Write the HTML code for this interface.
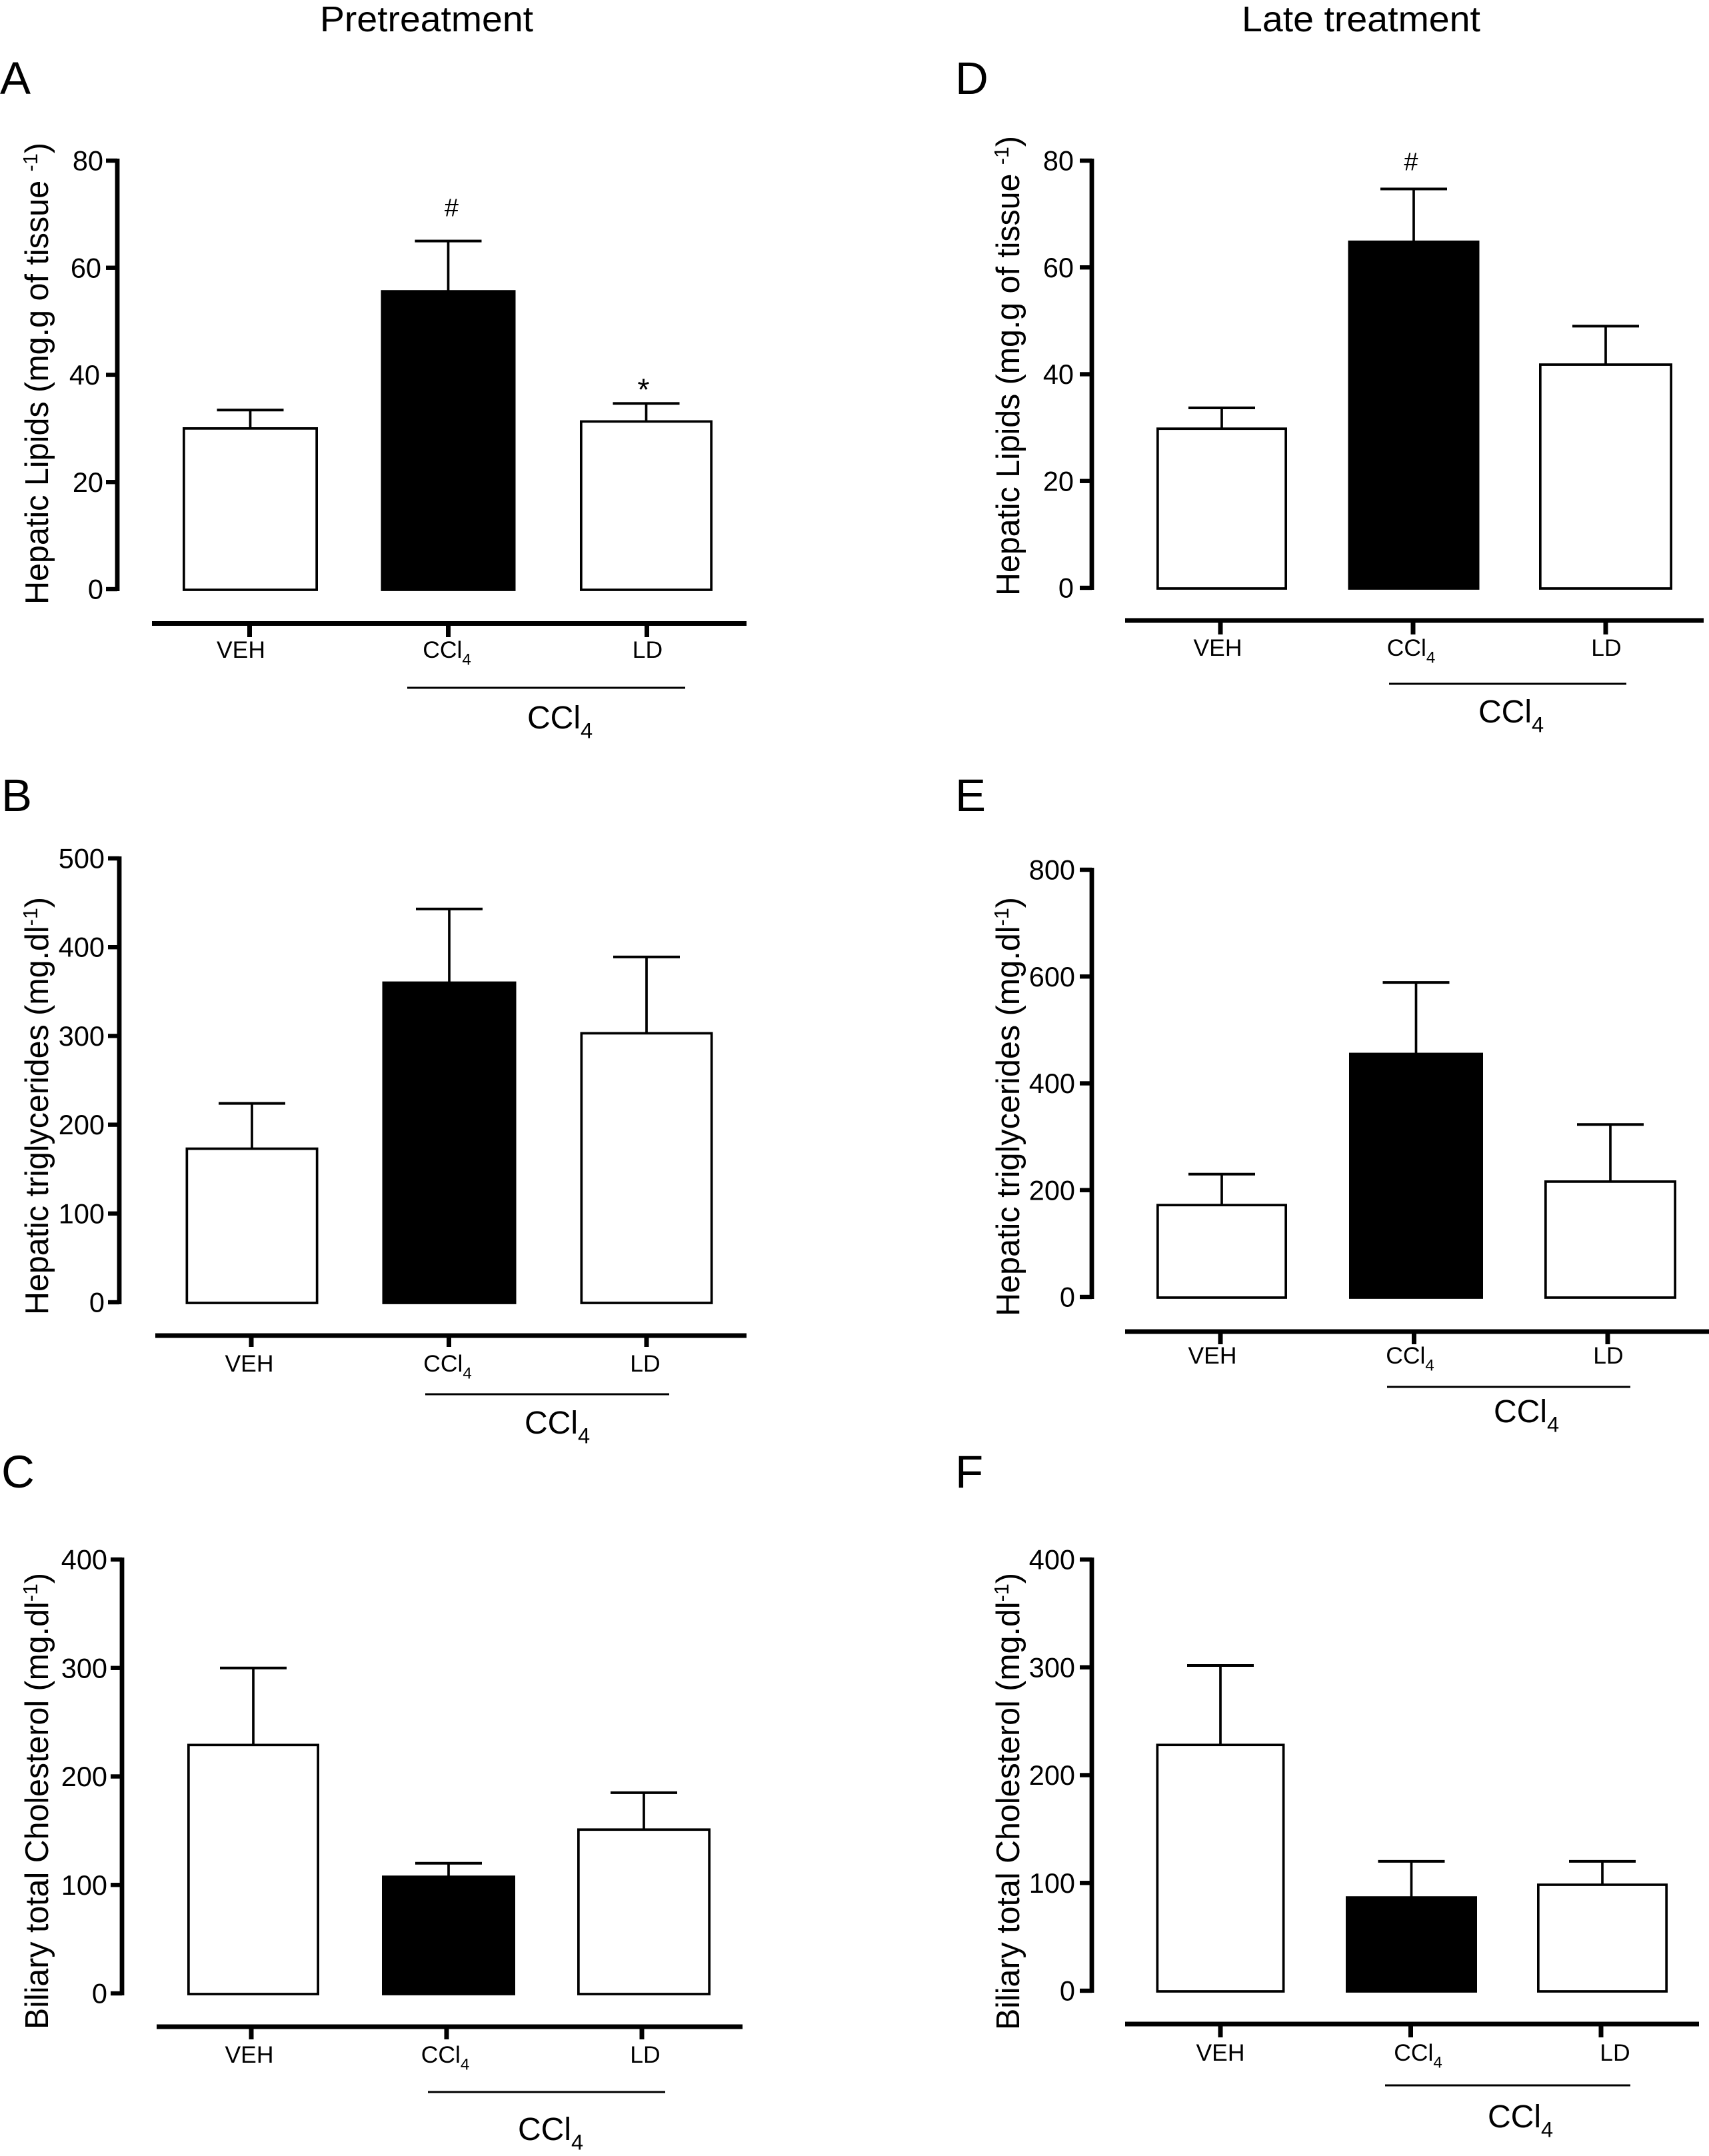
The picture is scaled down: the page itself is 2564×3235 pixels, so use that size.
<!DOCTYPE html>
<html lang="en">
<head>
<meta charset="utf-8">
<title>Hepatic lipids, triglycerides and biliary cholesterol</title>
<style>
html,body{margin:0;padding:0;background:#fff;}
svg{display:block;position:absolute;left:0;top:0;}
text{font-family:"Liberation Sans",Arial,sans-serif;fill:#000;}
</style>
</head>
<body>
<svg id="figure" xmlns="http://www.w3.org/2000/svg" width="2564" height="3235" viewBox="0 0 2564 3235">
<rect width="2564" height="3235" fill="#fff"/>
<text x="480" y="47" font-size="54" textLength="320" lengthAdjust="spacingAndGlyphs">Pretreatment</text>
<text x="1863" y="47" font-size="54" textLength="358" lengthAdjust="spacingAndGlyphs">Late treatment</text>
</svg>
<script>
const categories = ['VEH', 'CCl4', 'LD'];

const panelAMeans = [30, 55.6, 31.3];
const panelAErrors = [3.43, 9.4, 3.37];
const panelATicks = [0, 20, 40, 60, 80];
const panelAMarks = ['', '#', '*'];

const panelBMeans = [173, 360, 303];
const panelBErrors = [51, 83, 86];
const panelBTicks = [0, 100, 200, 300, 400, 500];
const panelBMarks = ['', '', ''];

const panelCMeans = [229, 107.5, 151];
const panelCErrors = [71, 12.5, 34];
const panelCTicks = [0, 100, 200, 300, 400];
const panelCMarks = ['', '', ''];

const panelDMeans = [29.8, 64.8, 41.8];
const panelDErrors = [3.9, 9.9, 7.2];
const panelDTicks = [0, 20, 40, 60, 80];
const panelDMarks = ['', '#', ''];

const panelEMeans = [172, 455, 216];
const panelEErrors = [58, 134, 107];
const panelETicks = [0, 200, 400, 600, 800];
const panelEMarks = ['', '', ''];

const panelFMeans = [228, 86.5, 98.3];
const panelFErrors = [73.7, 33.5, 21.7];
const panelFTicks = [0, 100, 200, 300, 400];
const panelFMarks = ['', '', ''];

const lipidsTitle = 'Hepatic Lipids (mg.g of tissue ';
const lipidsExponent = '-1';
const trigTitle = 'Hepatic triglycerides (mg.dl';
const trigExponent = '-1';
const cholTitle = 'Biliary total Cholesterol (mg.dl';
const cholExponent = '-1';

const panels = [
  {id:'a', letter:'A', letterX:0, letterY:141, means:panelAMeans, errors:panelAErrors, ticks:panelATicks, marks:panelAMarks,
   title:lipidsTitle, exp:lipidsExponent, titleX:72, titleTop:214, titleBot:907,
   axisX:176, yTop:241, yZero:884, tickLeft:159, labelRight:155, tickLabelNudge:[0,0,-5,-3,0],
   barStart:375.5, barStep:297, barW:[203,202,199],
   xAxisY:935.5, xAxisL:228, xAxisR:1120, xTickStart:374.5, xTickStep:298, xTickEnd:956,
   labelY:987, labelNudge:[-13,-2,1], markNudge:[0,5,-4], markLift:[0,37,5],
   lineY:1032, lineL:611, lineR:1028, bigX:791, bigY:1093},
  {id:'b', letter:'B', letterX:2, letterY:1217, means:panelBMeans, errors:panelBErrors, ticks:panelBTicks, marks:panelBMarks,
   title:trigTitle, exp:trigExponent, titleX:72, titleTop:1346, titleBot:1973,
   axisX:179, yTop:1288, yZero:1954, tickLeft:162, labelRight:157, tickLabelNudge:[0,0,0,0,0,0],
   barStart:378, barStep:296, barW:[199,201,199],
   xAxisY:2004, xAxisL:233, xAxisR:1120, xTickStart:377, xTickStep:296.5, xTickEnd:2021,
   labelY:2058, labelNudge:[-3,-2,-2], markNudge:[0,0,0], markLift:[0,0,0],
   lineY:2092, lineL:638, lineR:1004, bigX:787, bigY:2151},
  {id:'c', letter:'C', letterX:2, letterY:2232, means:panelCMeans, errors:panelCErrors, ticks:panelCTicks, marks:panelCMarks,
   title:cholTitle, exp:cholExponent, titleX:72, titleTop:2360, titleBot:3045,
   axisX:183, yTop:2340, yZero:2991, tickLeft:166, labelRight:161, tickLabelNudge:[0,0,0,0,0],
   barStart:380, barStep:293, barW:[198,200,200],
   xAxisY:3041, xAxisL:235, xAxisR:1114, xTickStart:377, xTickStep:293, xTickEnd:3060,
   labelY:3095, labelNudge:[-3,-2,5], markNudge:[0,0,0], markLift:[0,0,0],
   lineY:3139, lineL:642, lineR:998, bigX:777, bigY:3211},
  {id:'d', letter:'D', letterX:1433, letterY:141, means:panelDMeans, errors:panelDErrors, ticks:panelDTicks, marks:panelDMarks,
   title:lipidsTitle, exp:lipidsExponent, titleX:1529, titleTop:204, titleBot:894,
   axisX:1638, yTop:241, yZero:882, tickLeft:1620, labelRight:1611, tickLabelNudge:[0,0,0,0,0],
   barStart:1833, barStep:288, barW:[196,197,200],
   xAxisY:931, xAxisL:1688, xAxisR:2556, xTickStart:1831, xTickStep:289, xTickEnd:952,
   labelY:984, labelNudge:[-4,-3,1], markNudge:[0,-4,0], markLift:[0,28,0],
   lineY:1026, lineL:2084, lineR:2440, bigX:2218, bigY:1084},
  {id:'e', letter:'E', letterX:1433, letterY:1217, means:panelEMeans, errors:panelEErrors, ticks:panelETicks, marks:panelEMarks,
   title:trigTitle, exp:trigExponent, titleX:1529, titleTop:1346, titleBot:1975,
   axisX:1638, yTop:1305, yZero:1946, tickLeft:1620, labelRight:1613, tickLabelNudge:[0,0,0,0,0],
   barStart:1833, barStep:291.5, barW:[196,201,198],
   xAxisY:1998, xAxisL:1688, xAxisR:2564, xTickStart:1831, xTickStep:290.5, xTickEnd:2017,
   labelY:2046, labelNudge:[-12,-6,1], markNudge:[0,0,0], markLift:[0,0,0],
   lineY:2081, lineL:2081, lineR:2446, bigX:2241, bigY:2134},
  {id:'f', letter:'F', letterX:1433, letterY:2232, means:panelFMeans, errors:panelFErrors, ticks:panelFTicks, marks:panelFMarks,
   title:cholTitle, exp:cholExponent, titleX:1529, titleTop:2360, titleBot:3046,
   axisX:1638, yTop:2340, yZero:2987, tickLeft:1620, labelRight:1613, tickLabelNudge:[0,0,0,0,0],
   barStart:1831, barStep:286.5, barW:[193,197,196],
   xAxisY:3037, xAxisL:1688, xAxisR:2549, xTickStart:1831, xTickStep:285.5, xTickEnd:3057,
   labelY:3092, labelNudge:[0,11,21], markNudge:[0,0,0], markLift:[0,0,0],
   lineY:3129, lineL:2078, lineR:2446, bigX:2232, bigY:3192}
];

const SVG_NS = 'http://www.w3.org/2000/svg';
const figure = document.getElementById('figure');

function add(parent, tag, attrs, txt) {
  const node = document.createElementNS(SVG_NS, tag);
  for (const k in attrs) node.setAttribute(k, attrs[k]);
  if (txt !== undefined) node.textContent = txt;
  parent.appendChild(node);
  return node;
}

/* Category text: "CCl" followed by a lowered 4 */
function addCategoryText(textNode, label, size) {
  if (label === 'CCl4') {
    add(textNode, 'tspan', {}, 'CCl');
    add(textNode, 'tspan', {dy: size * 0.3, 'font-size': size * 0.68}, '4');
  } else {
    add(textNode, 'tspan', {}, label);
  }
}

panels.forEach(function (p) {
  const maxTick = p.ticks[p.ticks.length - 1];
  const yScale = function (v) { return p.yZero - (v / maxTick) * (p.yZero - p.yTop); };
  const barCenter = function (i) { return p.barStart + i * p.barStep; };
  const tickCenter = function (i) { return p.xTickStart + i * p.xTickStep; };

  const g = add(figure, 'g', {});
  
  

  const letter = add(g, 'text', {x: p.letterX, y: p.letterY, 'font-size': 69}, p.letter);
  
  

  /* y axis */
  const yAxis = add(g, 'rect', {x: p.axisX - 3.4, y: yScale(maxTick) - 3, width: 6.8, height: p.yZero - yScale(maxTick) + 6, fill: '#000'});
  
  

  p.ticks.forEach(function (t, k) {
    const mark = add(g, 'rect', {x: p.tickLeft, y: yScale(t) - 3.2, width: p.axisX - p.tickLeft, height: 6.4, fill: '#000'});
    
    
    const lab = add(g, 'text', {x: p.labelRight + p.tickLabelNudge[k], y: yScale(t) + 14.5, 'font-size': 41.5, 'text-anchor': 'end'}, String(t));
    
    
  });

  /* y title */
  const titleMid = (p.titleTop + p.titleBot) / 2;
  const yTitle = add(g, 'text', {
    x: p.titleX, y: titleMid, 'font-size': 49, 'text-anchor': 'middle',
    transform: 'rotate(-90 ' + p.titleX + ' ' + titleMid + ')',
    textLength: p.titleBot - p.titleTop, lengthAdjust: 'spacingAndGlyphs'
  });
  
  
  add(yTitle, 'tspan', {}, p.title);
  add(yTitle, 'tspan', {dy: -16, 'font-size': 31}, p.exp);
  add(yTitle, 'tspan', {dy: 16}, ')');

  /* bars and error bars */
  categories.forEach(function (cat, i) {
    const cx = barCenter(i);
    const top = yScale(p.means[i]);
    const errTop = yScale(p.means[i] + p.errors[i]);
    const key = cat.toLowerCase();
    const w = p.barW[i];

    const stem = add(g, 'line', {x1: cx, x2: cx, y1: top, y2: errTop, stroke: '#000', 'stroke-width': 3.7});
    
    
    const cap = add(g, 'line', {x1: cx - 50, x2: cx + 50, y1: errTop, y2: errTop, stroke: '#000', 'stroke-width': 4});
    
    

    const bar = add(g, 'rect', {
      x: cx - w / 2 + 1.85, y: top, width: w - 3.7, height: p.yZero + 1 - top,
      fill: i === 1 ? '#000' : '#fff', stroke: '#000', 'stroke-width': 3.7
    });
    
    

    if (p.marks[i]) {
      const sigSize = p.marks[i] === '*' ? 46 : 38;
      const sig = add(g, 'text', {x: cx + p.markNudge[i], y: errTop - p.markLift[i], 'font-size': sigSize, 'text-anchor': 'middle'}, p.marks[i]);
      
      
    }

    const xt = tickCenter(i);
    const xTick = add(g, 'rect', {x: xt - 3.5, y: p.xAxisY, width: 7, height: p.xTickEnd - p.xAxisY, fill: '#000'});
    
    

    const catText = add(g, 'text', {x: xt + p.labelNudge[i], y: p.labelY, 'font-size': 35.5, 'text-anchor': 'middle'});
    
    
    addCategoryText(catText, cat, 35.5);
  });

  /* x axis */
  const xAxis = add(g, 'rect', {x: p.xAxisL, y: p.xAxisY - 3.5, width: p.xAxisR - p.xAxisL, height: 7, fill: '#000'});
  
  

  /* group bracket */
  const bracket = add(g, 'line', {x1: p.lineL, x2: p.lineR, y1: p.lineY, y2: p.lineY, stroke: '#000', 'stroke-width': 3});
  
  
  const groupText = add(g, 'text', {x: p.bigX, y: p.bigY, 'font-size': 48});
  
  
  addCategoryText(groupText, 'CCl4', 48);
});
</script>
</body>
</html>
